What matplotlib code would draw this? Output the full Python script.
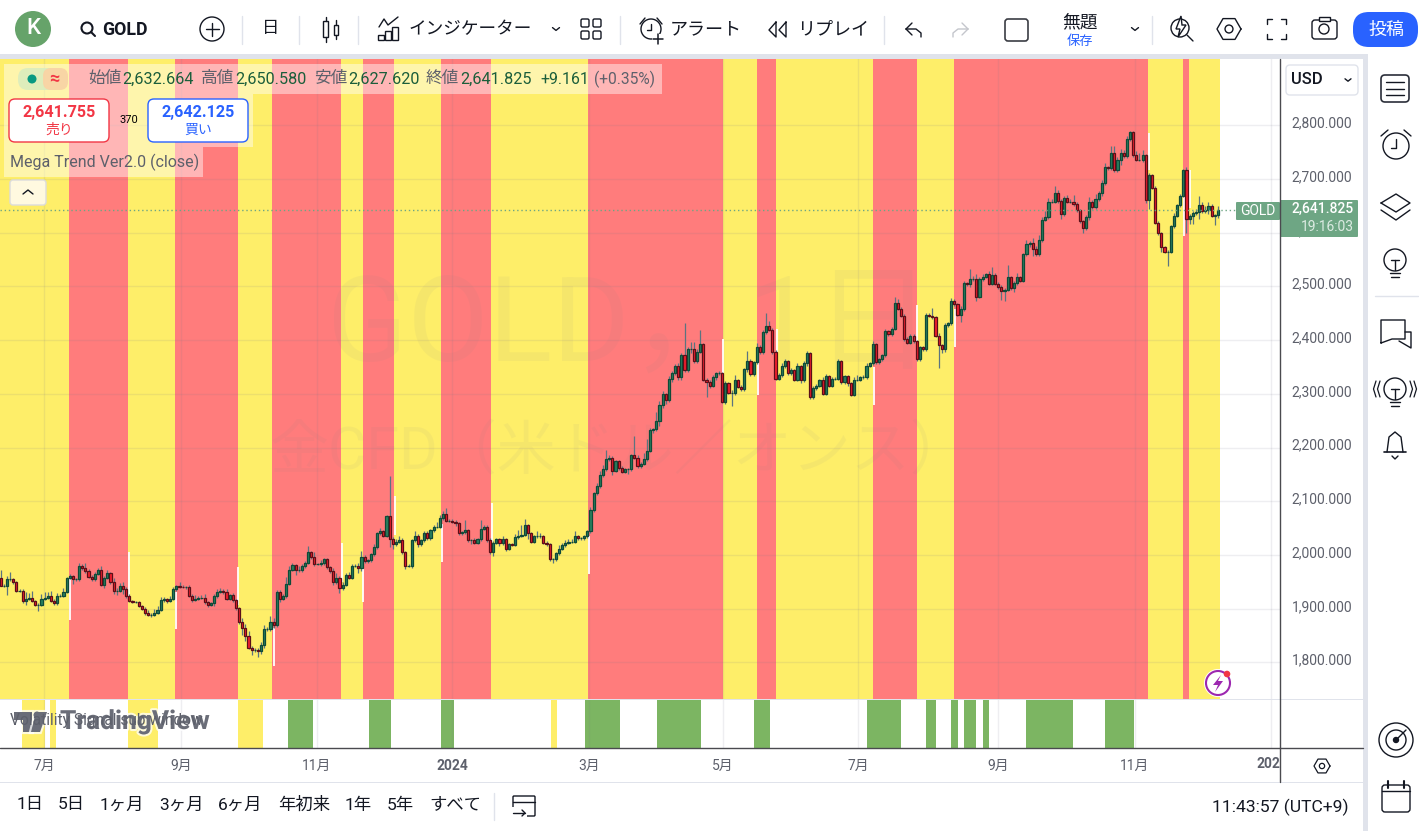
import numpy as np
import matplotlib
matplotlib.use("Agg")
import matplotlib.pyplot as plt
import matplotlib.patheffects as pe
from matplotlib.patches import Rectangle, Circle, FancyBboxPatch, Polygon
from matplotlib.transforms import ScaledTranslation

plt.rcParams['font.family'] = ['Roboto', 'Noto Sans CJK JP', 'DejaVu Sans']

W, H = 1419, 831

# daily closes (Jun 2023 - Dec 2024)
closes = [
    1940,1940,1952,1953,1946,1931,1931,1911,1916,1918,
    1911,1905,1905,1916,1918,1921,1911,1907,1921,1921,
    1929,1954,1958,1952,1952,1976,1972,1967,1957,1952,
    1962,1969,1942,1955,1963,1946,1931,1931,1939,1933,
    1921,1911,1909,1909,1903,1897,1889,1886,1886,1890,
    1895,1913,1915,1911,1916,1933,1939,1938,1937,1937,
    1921,1913,1916,1917,1918,1909,1905,1907,1920,1929,
    1931,1928,1916,1922,1913,1898,1872,1861,1846,1825,
    1820,1820,1818,1829,1859,1859,1872,1866,1929,1916,
    1920,1944,1970,1978,1969,1969,1976,1982,2002,1993,
    1980,1980,1982,1989,1974,1967,1946,1955,1935,1942,
    1959,1955,
    1977,1977,1973,1994,1986,1987,1998,2011,2037,2041,
    2033,2069,2026,2017,2022,2024,2002,1977,1977,2024,
    2033,2017,2024,2037,2028,2043,2050,2050,2065,2074,
    2061,2061,2059,2056,2037,2039,2043,2024,2024,2020,
    2026,2046,2050,2024,2002,2020,2026,2019,2026,2009,
    2017,2016,2030,2033,2035,2052,2037,2022,2032,2032,
    2032,2020,2017,1989,1989,2000,2009,2015,2020,2022,
    2022,2032,2028,2028,2032,2041,2080,2112,2125,2145,
    2156,2175,2178,2154,2171,2158,2152,2156,2156,2182,
    2178,2162,2167,2175,2191,2229,2231,2247,2276,
    2296,2286,2325,2335,2349,2328,2368,2341,2379,2379,
    2357,2375,2389,2323,2318,2312,2327,2335,2335,2282,
    2316,2299,2299,2322,2310,2305,2342,2357,2333,2355,
    2383,2374,2411,2422,2416,2375,2325,2331,2348,2357,
    2335,2340,2323,2348,2322,2353,2372,2290,2307,2312,
    2322,2297,2329,2312,2325,2325,2357,2318,2329,2316,
    2295,2323,2323,2327,2327,2349,2353,2389,2355,2361,
    2368,2413,2407,2418,2465,2455,2442,2398,2392,2405,
    2394,2361,2383,2379,2444,2442,2439,2405,2387,2379,
    2424,2428,2469,2463,2444,2454,2502,
    2500,2510,2510,2477,2510,2514,2519,2501,2518,2501,
    2496,2488,2490,2513,2493,2502,2513,2507,
    2556,2575,2577,2565,2556,2582,2620,2625,2654,2654,
    2669,2655,2630,2660,2654,2654,2649,2638,2617,2604,
    2626,2654,2643,2658,2669,2688,2718,2716,2745,2712,
    2732,2744,2738,2770,2783,2740,2732,2732,2740,2656,
    2703,2680,2615,2595,2569,2561,2561,2608,2628,2647,
    2665,2712,2621,2628,2632,2634,2647,2636,2639,2645,
    2628,
]
first_open = 1954
# these two are printed in the legend
last_open = 2632.664
last_close = 2641.825

# how far the wick sticks out of the body, price units
wick_up = [
    15,3,6,12,2,2,3,3,12,8, 13,3,2,8,10,8,10,4,6,3, 6,2,4,2,3,7,4,11,4,3,
    4,3,8,3,6,3,8,4,6,8, 4,3,3,2,3,2,4,5,4,6, 8,6,4,3,4,4,3,8,3,3,
    4,4,6,4,5,6,3,3,4,5, 4,3,5,3,4,3,3,8,8,10, 3,4,4,6,8,5,12,8,3,3,
    5,12,6,4,3,7,5,4,11,3, 10,3,5,3,3,3,5,8,3,5, 4,6,
    3,4,5,10,3,3,3,6,3,6, 3,3,75,4,5,8,5,3,3,3, 8,3,3,4,4,3,3,8,6,4,
    10,3,3,4,3,3,19,3,3,4, 3,17,3,3,5,3,3,3,6,3, 3,3,6,10,17,12,3,3,3,9,
    5,3,3,3,3,3,6,5,5,4, 4,9,3,3,3,3,6,3,5,8, 8,17,5,3,3,3,5,3,3,3,
    36,5,3,12,22,5,3,15,8,
    5,3,4,4,3,4,4,60,5,14, 14,5,27,3,3,4,5,3,4,3, 4,3,5,10,3,3,3,19,4,3,
    8,5,5,24,10,3,3,4,5,5, 3,4,3,5,3,5,5,3,4,3, 3,5,4,3,3,3,5,3,3,3,
    3,5,9,3,5,5,3,5,3,3, 3,5,3,3,12,8,3,3,4,3, 3,3,3,3,3,3,15,3,4,3,
    5,3,5,3,3,5,4,
    3,18,5,10,4,5,3,5,15,3,3,3,3,23,3,4,8,3,
    3,8,3,10,6,10,5,12,6,5, 14,6,3,5,6,4,13,5,3,3, 3,8,3,10,5,6,8,3,12,12,
    5,8,5,5,3,3,8,13,10,3, 5,3,3,3,3,3,3,3,5,3, 3,3,7,3,5,7,17,7,6,8,
    4,3,8.755,
]
wick_dn = [
    0,2,17,3,2,3,3,3,6,3, 2,3,13,3,2,3,2,3,2,2, 2,3,2,8,3,3,3,3,2,3,
    4,3,3,6,3,2,6,8,3,8, 3,2,2,2,3,3,3,3,4,3, 3,2,3,3,2,3,3,3,2,3,
    2,3,2,2,2,3,4,3,4,3, 2,3,3,3,3,3,4,12,8,3, 8,3,10,5,4,3,3,5,2,6,
    3,3,3,3,10,3,3,3,2,3, 3,2,3,3,3,3,4,3,8,3, 3,3,
    3,3,10,5,3,3,3,3,3,3, 3,3,15,8,4,3,4,6,3,5, 3,5,3,3,3,3,3,3,3,3,
    3,3,3,5,3,3,3,3,6,3, 3,3,3,3,3,6,3,5,3,4, 3,3,3,3,3,3,10,3,3,3,
    3,3,3,3,6,3,3,3,3,3, 3,3,3,3,3,3,3,3,3,3, 3,3,3,8,3,3,3,3,8,3,
    3,3,3,3,3,3,5,3,10,
    5,8,5,6,4,5,6,3,3,6, 3,4,3,3,28,4,3,5,3,3, 4,3,25,5,3,3,3,5,3,3,
    3,3,4,3,3,4,3,3,3,3, 4,3,3,3,5,3,5,3,3,3, 3,3,3,3,3,3,3,3,3,5,
    3,3,3,3,3,3,3,3,3,3, 3,3,3,3,3,3,3,3,3,3, 3,3,3,3,3,3,3,3,43,6,
    5,3,3,3,3,13,4,
    3,4,3,8,3,3,3,3,3,3,5,17,18,3,3,8,3,3,
    3,3,6,12,4,3,3,3,3,3, 3,3,8,3,3,3,3,3,3,8, 3,6,3,3,3,4,3,3,4,3,
    3,10,3,3,3,3,3,3,5,4, 16,3,3,3,9,3,27,3,3,3, 3,3,25,8,15,3,12,3,3,8,
    3,18,5.044,
]

# trend background, in bar numbers
red_spans = [(21.8,40.6),(55.6,75.6),(86.5,108.5),(115.5,125.4),(140.4,156.3),
             (187.2,230.3),(241.1,247.1),(278.1,292.1),(303.9,365.7),(376.9,378.8)]
last_span_end = 388.8

# white signal marks: bar, low, high
signal_bar = [22,41,56,75.7,87,108.8,115.6,125.8,140.8,156.7,187.6,230.3,241.5,247.5,278.5,292.2,304.3,366.1,377.1,379.2]
signal_low = [1876,1911,1859,1904,1791,1947,1910,2034,1984,2021,1962,2328,2294,2346,2276,2391,2384,2713,2590,2642]
signal_high = [1954,2003,1928,1975,1861,2019,1980,2107,2055,2094,2032,2398,2365,2417,2346,2462,2454,2781,2662,2713]

# volatility sub window
vol_green = [(91.6,99.6),(117.4,124.4),(140.4,144.5),(186.3,197.4),(209.2,223.2),(240.1,245.2),
             (276.2,287),(295,298.2),(302.9,305.1),(307.1,310.8),(313.1,315),(327,341.9),(352,361.3)]
vol_yellow = [(6.8,14.1),(15.7,17.6),(40.6,50.1),(75.6,83.6),(175.4,177.3)]

price_ticks = [1800,1900,2000,2100,2200,2300,2400,2500,2600,2700,2800]
month_bars = [13.8,57.5,100.8,143.9,187.5,230.3,273.3,317.9,361.6,405]
month_labels = ['7月','9月','11月','2024','3月','5月','7月','9月','11月','']

RED_BG = '#ff7c7c'
YEL_BG = '#feee69'
GREEN_SUB = '#7cb562'
INK = '#131722'
LAV = '#e0e3eb'
TAG = '#6ea684'


# the values above were read against the labels, the grid lines sit about 2px lower
def to_grid(p):
    p = np.asarray(p, dtype=float)
    return p + 4.28 - (2800 - p) * 0.00186


closes = np.r_[to_grid(closes), last_open, last_close]
opens = np.r_[to_grid(first_open), closes[:-1]]
highs = np.maximum(opens, closes) + np.array(wick_up)
lows = np.minimum(opens, closes) - np.array(wick_dn)
bars = np.arange(len(closes))

fig = plt.figure(figsize=(W / 100, H / 100), dpi=100, facecolor='white')


def rect_px(x0, y0, x1, y1):
    return [x0 / W, 1 - y1 / H, (x1 - x0) / W, (y1 - y0) / H]


bar_px = 3.137
xlim = ((0 - 0.7) / bar_px, (1280 - 0.7) / bar_px)
ppx = 0.537
y2800 = 125.3

ax = fig.add_axes(rect_px(0, 59, 1280, 699), zorder=1)
sub = fig.add_axes(rect_px(0, 700, 1280, 748), zorder=1, sharex=ax)
ui = fig.add_axes([0, 0, 1, 1], zorder=3)
ui.set_xlim(0, W)
ui.set_ylim(H, 0)
ui.axis('off')
ui.patch.set_alpha(0)

# main pane
ax.set_xlim(*xlim)
ax.set_ylim(2800 - (699 - y2800) / ppx, 2800 + (y2800 - 59) / ppx)
ax.axvspan(xlim[0], last_span_end, color=YEL_BG, lw=0, zorder=1)
for a, b in red_spans:
    ax.axvspan(a, b, color=RED_BG, lw=0, zorder=1.1)
ax.yaxis.tick_right()
ax.set_yticks(price_ticks)
ax.set_yticklabels([f'{p:,.3f}' for p in price_ticks], fontsize=10, color='#5d606b')
ax.tick_params(axis='y', length=0, pad=8.5)
ax.tick_params(axis='x', length=0, labelbottom=False)
lift = ScaledTranslation(0, 0.033, fig.dpi_scale_trans)
for lab in ax.get_yticklabels():
    lab.set_transform(lab.get_transform() + lift)
ax.grid(True, color='#7a7a8c', alpha=0.12, lw=1)
ax.set_axisbelow(False)
for s in ax.spines.values():
    s.set_visible(False)

# watermark
ax.text(630, 328, 'GOLD，1日', transform=ui.transData, fontsize=85, color='#8a8a8a', alpha=0.07,
        ha='center', va='center', zorder=1.5)
ax.text(620, 453, '金CFD（米ドル／オンス）', transform=ui.transData, fontsize=42.5, color='#8a8a8a', alpha=0.07,
        ha='center', va='center', zorder=1.5)

# signal marks and candles
ax.vlines(signal_bar, to_grid(signal_low), to_grid(signal_high), color='white', lw=1.3, zorder=3)
ax.vlines(bars, lows, highs, color='#5b7480', lw=0.9, zorder=3.2)
is_up = closes >= opens
ax.bar(bars[is_up], (closes - opens)[is_up], bottom=opens[is_up], width=0.68,
       color='#2a8060', edgecolor='#0f4a38', lw=0.9, zorder=3.5)
ax.bar(bars[~is_up], (closes - opens)[~is_up], bottom=opens[~is_up], width=0.68,
       color='#f5202e', edgecolor='#5a0f18', lw=0.9, zorder=3.5)
ax.axhline(last_close, color=TAG, lw=1, ls=(0, (1, 2)), zorder=4)

# sub pane
for a, b in vol_yellow:
    sub.axvspan(a, b, color=YEL_BG, lw=0, zorder=1)
for a, b in vol_green:
    sub.axvspan(a, b, color=GREEN_SUB, lw=0, zorder=1)
sub.set_ylim(0, 1)
sub.set_yticks([])
sub.set_xticks(month_bars)
sub.set_xticklabels(month_labels, fontsize=10, color='#5d606b')
sub.tick_params(axis='x', length=0, pad=8)
sub.get_xticklabels()[3].set_fontweight('bold')
sub.grid(True, axis='x', color='#7a7a8c', alpha=0.12, lw=1)
sub.set_axisbelow(False)
for s in sub.spines.values():
    s.set_visible(False)
ax.set_xticks(month_bars)
ax.tick_params(axis='x', length=0, labelbottom=False)

# ---- screen chrome, all in pixels ----


def txt(x, y, s, size=10, color=INK, ha='left', va='center', **kw):
    return ui.text(x, y, s, fontsize=size, color=color, ha=ha, va=va, **kw)


def line(xs, ys, color=INK, lw=1.0, **kw):
    ui.plot(xs, ys, color=color, lw=lw, solid_capstyle='round', **kw)


def box(x0, y0, x1, y1, face='none', edge='none', lw=1.0, r=0, alpha=None):
    if r:
        p = FancyBboxPatch((x0 + r, y0 + r), x1 - x0 - 2 * r, y1 - y0 - 2 * r,
                           boxstyle=f'round,pad={r},rounding_size={r}',
                           fc=face, ec=edge, lw=lw, alpha=alpha)
    else:
        p = Rectangle((x0, y0), x1 - x0, y1 - y0, fc=face, ec=edge, lw=lw, alpha=alpha)
    ui.add_patch(p)


def circ(x, y, r, face='none', edge=INK, lw=1.0):
    ui.add_patch(Circle((x, y), r, fc=face, ec=edge, lw=lw))


def hexagon(x, y, r, lw=1.0):
    a = np.radians(np.arange(0, 361, 60))
    line(x + r * np.cos(a), y + r * np.sin(a), lw=lw)
    circ(x, y, r * 0.33, lw=lw)


def chevron(x, y, up=False, s=3.5, color=INK):
    d = -s * 0.8 if up else s * 0.8
    line([x - s, x, x + s], [y - d / 2, y + d / 2, y - d / 2], color=color, lw=1.0)


# frame bands
box(0, 54, 1368, 59, face=LAV)
box(1363, 54, 1368, 831, face=LAV)
box(0, 782, 1363, 783, face=LAV)
box(0, 699, 1280, 700.2, face=LAV)
box(1280, 699, 1363, 700.2, face=LAV)
line([0, 1363], [748, 748], color='#4a4a4f', lw=1.0)
line([1280, 1280], [59, 782], color='#4a4a4f', lw=1.0)

# top bar
circ(33, 29, 18, face='#66a36a', edge='none')
txt(33, 29, 'K', 16, 'white', ha='center', fontweight='medium')
circ(87, 28, 5.5, lw=1.5)
line([91, 95], [32, 36], lw=1.5)
txt(102, 30, 'GOLD', 12.8, fontweight='bold')
circ(212, 29, 12)
line([205.5, 218.5], [29, 29])
line([212, 212], [22.5, 35.5])
for x in [242, 299, 358, 620, 884, 1152]:
    line([x, x], [16, 44], color=LAV, lw=1)
txt(271, 29, '日', 12.5, ha='center')
# candle icon
box(323, 21, 328, 37, edge=INK)
line([325.5, 325.5], [17, 21])
line([325.5, 325.5], [37, 42])
box(334, 25, 338, 35, edge=INK)
line([336, 336], [20, 25])
line([336, 336], [35, 39])
# indicators icon
for x0, top in [(378, 35), (385, 31), (392, 27)]:
    box(x0, top, x0 + 6, 40, edge=INK)
line([379, 384, 388, 398], [27, 19, 25, 17])
txt(408, 29.5, 'インジケーター', 12.7)
chevron(556, 29)
for cx in [585, 597]:
    for cy in [23, 35]:
        box(cx - 4, cy - 4, cx + 4, cy + 4, edge=INK, r=1.5)
# alarm
circ(651, 29, 10)
line([651, 651, 647], [24, 30, 30])
line([640, 645], [24, 18])
line([662, 657], [24, 18])
box(652, 34, 664, 45, face='white')
line([658, 658], [34, 44], lw=1.1)
line([653, 663], [39, 39], lw=1.1)
txt(670, 29.5, 'アラート', 13)
line([776, 769, 776, 776], [22, 30, 37, 22])
line([786, 779, 786, 786], [22, 30, 37, 22])
txt(797, 29.5, 'リプレイ', 13)
# undo, redo
line([906, 912], [29, 23])
line([906, 912], [29, 35])
line([906, 916, 921, 921], [29, 29, 33, 37])
line([968, 962], [29, 23], color='#c4c6cc')
line([968, 962], [29, 35], color='#c4c6cc')
line([968, 958, 953, 953], [29, 29, 33, 37], color='#c4c6cc')
box(1005, 19, 1028, 41, edge='#3b3d44', lw=1.2, r=3)
txt(1080, 22, '無題', 12.8, ha='center')
txt(1080, 42, '保存', 9.5, '#2962ff', ha='center')
chevron(1135, 29)
circ(1180, 28, 9)
ui.add_patch(Polygon([(1181, 16), (1176, 29), (1180, 29), (1178, 37), (1186, 25), (1182, 25)],
                     fc='white', ec=INK, lw=1))
line([1187, 1193], [35, 41])
hexagon(1229, 29, 12)
for sx, sy in [(-1, -1), (1, -1), (-1, 1), (1, 1)]:
    cx, cy = 1276 + sx * 9.5, 29 + sy * 10
    line([cx, cx, cx - sx * 5], [cy - sy * 5, cy, cy])
box(1312, 20, 1337, 39, edge=INK, r=3)
box(1319, 17, 1330, 21, face='white', edge=INK)
circ(1324, 29, 5)
box(1353, 12, 1418, 47, face='#2962ff', r=16)
txt(1386, 29.5, '投稿', 13, 'white', ha='center')

# legend
box(4, 64, 662, 94, face='white', alpha=0.45)
box(4, 94, 253, 147, face='white', alpha=0.45)
box(4, 147, 203, 177, face='white', alpha=0.45)
box(18, 68, 68, 90, face='#d6ecc0', r=10, alpha=0.8)
box(43, 68, 68, 90, face='#ffcfa0', r=8, alpha=0.8)
circ(32, 79, 4.5, face='#089981', edge='none')
txt(54, 79, '≈', 13, '#f23645', ha='center', fontweight='bold')
GV = '#1b5e3b'
GL = '#5d606b'
for xl, lab, xv, val in [(88, '始値', 122, '2,632.664'), (201, '高値', 235, '2,650.580'),
                         (314, '安値', 348, '2,627.620'), (426, '終値', 460, '2,641.825')]:
    txt(xl, 78.5, lab, 12, GL)
    txt(xv, 79, val, 11.7, GV)
txt(540, 79, '+9.161', 11.4, GV)
txt(594, 79, '(+0.35%)', 11.2, GL)
box(9, 99, 109, 142, face='white', edge='#f23645', lw=1, r=6)
txt(59, 113, '2,641.755', 11.6, '#f23645', ha='center', fontweight='bold')
txt(59, 130, '売り', 10, '#f23645', ha='center')
txt(129, 120, '370', 8, 'black', ha='center')
box(148, 99, 248, 142, face='white', edge='#2962ff', lw=1, r=6)
txt(198, 113, '2,642.125', 11.6, '#2962ff', ha='center', fontweight='bold')
txt(198, 130, '買い', 10, '#2962ff', ha='center')
txt(10, 162, 'Mega Trend Ver2.0 (close)', 11.5, '#5d606b')
box(10, 180, 46, 205, face='#fff9e0', edge='#dcdcdc', lw=1, r=3)
chevron(28, 192, up=True, s=5)

# USD box, price tag
box(1286, 65, 1358, 95, face='white', edge=LAV, r=4)
txt(1291, 79, 'USD', 12, fontweight='medium')
chevron(1348, 80, s=3)
box(1236, 202, 1280, 220, face=TAG, r=1)
txt(1258, 211, 'GOLD', 10, 'white', ha='center')
box(1280, 200, 1358, 237, face=TAG, r=1)
txt(1354, 209, '2,641.825', 10, 'white', ha='right', fontweight='medium')
txt(1354, 227, '19:16:03', 10, '#dcebe2', ha='right')

# flash icon
circ(1218, 683, 14, face='white', edge='none')
circ(1218, 683, 12, edge='#9c27b0', lw=1.5)
ui.add_patch(Polygon([(1221, 675), (1213, 685), (1218, 685), (1215, 692), (1223, 681), (1218, 681)],
                     fc='#9c27b0', ec='none'))
circ(1227, 674, 3.3, face='#f23645', edge='none')

# sub window title + logo
halo = [pe.withStroke(linewidth=3, foreground=(1, 1, 1, 0.75))]
for poly in [[(14, 712), (32, 712), (32, 732), (23, 732), (23, 720), (14, 720)],
             [(36, 712), (47, 712), (40, 732), (31, 732)]]:
    ui.add_patch(Polygon(poly, fc='#6a6d78', ec='none', path_effects=halo))
circ(37, 715, 3.5, face='#6a6d78', edge='none')
txt(60, 722, 'TradingView', 19, '#6a6d78', fontweight='bold', path_effects=halo)
txt(10, 720, 'Volatility Signal sub window', 11.2, '#5d606b')

# time axis leftovers
txt(1280, 764, '202', 10, '#5d606b', ha='right', fontweight='bold')
hexagon(1322, 766, 8, lw=0.9)

# bottom bar
for x, s in [(30, '1日'), (71, '5日'), (122, '1ヶ月'), (181, '3ヶ月'), (240, '6ヶ月'),
             (304, '年初来'), (358, '1年'), (400, '5年'), (455, 'すべて')]:
    txt(x, 805, s, 12.5, ha='center')
line([494, 494], [793, 820], color=LAV, lw=1)
box(513, 796, 535, 816, face='none', edge=INK, r=1)
line([513, 535], [802, 802])
box(511, 807, 527, 818, face='white')
line([513, 525], [813, 813])
line([522, 525, 522], [810, 813, 816])
txt(1349, 807, '11:43:57 (UTC+9)', 12.6, ha='right')

# right bar
box(1381, 75, 1409, 102, edge='#2a2e39', lw=1.2, r=4)
for y in [82, 88.5, 95]:
    line([1386, 1404], [y, y])
circ(1396, 146, 13)
line([1396, 1396, 1391], [139, 148, 148])
line([1381, 1388], [136, 130])
line([1411, 1404], [136, 130])
line([1381, 1396, 1410, 1396, 1381], [203, 194, 203, 212, 203])
line([1381, 1396, 1410], [210, 220, 210])
for cy, cx in [(260, 1395), (389, 1395)]:
    circ(cx, cy, 11)
    line([cx - 5, cx + 5], [cy + 13, cy + 13])
    line([cx - 4, cx + 4], [cy + 17, cy + 17])
    line([cx, cx], [cy, cy + 10])
    line([cx - 4, cx + 4], [cy, cy])
line([1375, 1418], [296, 296], color=LAV, lw=1)
line([1381, 1381, 1405, 1405, 1392, 1381], [343, 320, 320, 339, 339, 343])
line([1405, 1411, 1411, 1399], [332, 332, 348, 341])
for s in [1, -1]:
    for d in [15, 19]:
        line([1395 + s * d, 1395 + s * (d + 2.5), 1395 + s * d], [381, 389, 397], lw=0.9)
line([1384, 1406], [452, 452], lw=1.2)
line([1387, 1389, 1395, 1401, 1403], [452, 437, 432, 437, 452])
line([1392, 1395, 1398], [456, 459, 456])
circ(1396, 740, 17, lw=1.0)
circ(1396, 740, 10, lw=1.0)
circ(1396, 740, 2.5, face=INK)
line([1396, 1406], [740, 730])
box(1382, 785, 1410, 812, edge=INK, r=3)
line([1382, 1410], [791, 791])
for x in [1388, 1404]:
    line([x, x], [781, 788], lw=1.5)

fig.savefig('out.png', dpi=100, facecolor='white')
